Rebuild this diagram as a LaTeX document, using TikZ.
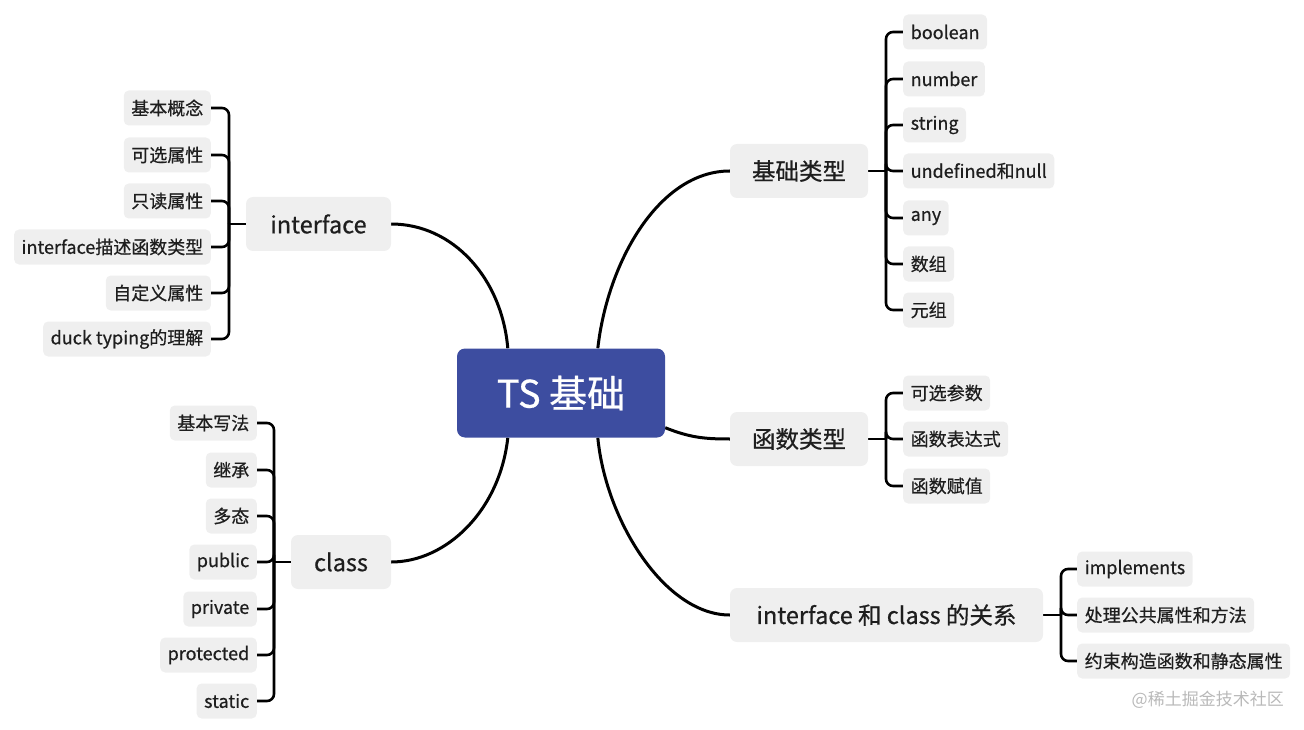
\documentclass[tikz,border=0pt]{standalone}
\usepackage{fontspec}
\setmainfont{Noto Sans CJK SC}[FakeBold=0.6]
\newfontfamily\wmfont{Noto Sans CJK SC}
\usetikzlibrary{calc}
\definecolor{boxgray}{RGB}{239,239,239}
\definecolor{tsblue}{RGB}{61,77,160}
\definecolor{wmgray}{RGB}{185,185,185}
\definecolor{txt}{RGB}{30,30,30}
\pgfdeclarelayer{bg}
\pgfsetlayers{bg,main}
\tikzset{
  leaf/.style={fill=boxgray, rounded corners=5pt, minimum height=35pt, inner xsep=7.5pt, inner ysep=0pt, text=txt, font=\fontsize{18}{18}\selectfont},
  mainnode/.style={fill=boxgray, rounded corners=7pt, minimum height=54pt, inner sep=0pt, text=txt, font=\fontsize{23.5}{23.5}\selectfont},
  rootnode/.style={fill=tsblue, rounded corners=8pt, minimum width=208pt, minimum height=89pt, inner sep=0pt, text=white, font=\fontsize{38}{38}\selectfont},
  br/.style={line width=2.6pt, rounded corners=7pt, draw=black},
  curve/.style={line width=3pt, draw=black},
}
\begin{document}
\begin{tikzpicture}[x=1pt,y=-1pt]
\useasboundingbox (0,0) rectangle (1304,730);
% root
\node[rootnode] (ts) at (561,393) {TS 基础};
% main nodes
\node[mainnode, minimum width=145pt] (itf) at (318.5,224) {interface};
\node[mainnode, minimum width=100pt] (cls) at (341,562) {class};
\node[mainnode, minimum width=138pt] (basic) at (799,171) {基础类型};
\node[mainnode, minimum width=138pt] (func) at (799,439) {函数类型};
\node[mainnode, minimum width=313pt] (rel) at (886.5,615) {interface 和 class 的关系};
% interface leaves
\node[leaf, anchor=east] (i1) at (211,108) {基本概念};
\node[leaf, anchor=east] (i2) at (211,155) {可选属性};
\node[leaf, anchor=east] (i3) at (211,201) {只读属性};
\node[leaf, anchor=east] (i4) at (211,247) {interface描述函数类型};
\node[leaf, anchor=east] (i5) at (211,293) {自定义属性};
\node[leaf, anchor=east] (i6) at (211,339) {duck typing的理解};
% class leaves
\node[leaf, anchor=east] (c1) at (257,423) {基本写法};
\node[leaf, anchor=east] (c2) at (257,470) {继承};
\node[leaf, anchor=east] (c3) at (257,516) {多态};
\node[leaf, anchor=east] (c4) at (257,562) {public};
\node[leaf, anchor=east] (c5) at (257,609) {private};
\node[leaf, anchor=east] (c6) at (257,655) {protected};
\node[leaf, anchor=east] (c7) at (257,701) {static};
% basic leaves
\node[leaf, anchor=west] (b1) at (903,32) {boolean};
\node[leaf, anchor=west] (b2) at (903,79) {number};
\node[leaf, anchor=west] (b3) at (903,125) {string};
\node[leaf, anchor=west] (b4) at (903,171) {undefined和null};
\node[leaf, anchor=west] (b5) at (903,218) {any};
\node[leaf, anchor=west] (b6) at (903,264) {数组};
\node[leaf, anchor=west] (b7) at (903,310) {元组};
% function leaves
\node[leaf, anchor=west] (f1) at (903,393) {可选参数};
\node[leaf, anchor=west] (f2) at (903,439) {函数表达式};
\node[leaf, anchor=west] (f3) at (903,486) {函数赋值};
% relation leaves
\node[leaf, anchor=west] (r1) at (1077,569) {implements};
\node[leaf, anchor=west] (r2) at (1077,615) {处理公共属性和方法};
\node[leaf, anchor=west] (r3) at (1077,661) {约束构造函数和静态属性};
% watermark
\node[text=wmgray, font=\wmfont\fontsize{17}{17}\selectfont, anchor=east, inner sep=0pt] (wm) at (1284,700) {@稀土掘金技术社区};
% junctions
\coordinate (jI) at (229,224);
\coordinate (jC) at (274,562);
\coordinate (jB) at (886,171);
\coordinate (jF) at (886,439);
\coordinate (jR) at (1061,615);
\begin{pgfonlayer}{bg}
% main curves
\draw[curve] (itf.east) .. controls +(62,0) and +(-6,-70) .. ($(ts.north west)+(51,0)$);
\draw[curve] (cls.east) .. controls +(55,0) and +(-8,73) .. ($(ts.south west)+(51,0)$);
\draw[curve] (basic.west) .. controls +(-70,0) and +(10,-88) .. ($(ts.north west)+(141,0)$);
\draw[curve] (rel.west) .. controls +(-65,0) and +(8,83) .. ($(ts.south west)+(141,0)$);
\draw[curve] (func.west) .. controls +(-25,0) and +(25,10) .. ($(ts.south east)+(0,-10)$);
% brackets
\foreach \n in {i1,i2,i3,i4,i5,i6} \draw[br] (\n.east) -| (jI);
\draw[br] (itf.west) -- (jI);
\foreach \n in {c1,c2,c3,c4,c5,c6,c7} \draw[br] (\n.east) -| (jC);
\draw[br] (cls.west) -- (jC);
\foreach \n in {b1,b2,b3,b4,b5,b6,b7} \draw[br] (\n.west) -| (jB);
\draw[br] (basic.east) -- (jB);
\foreach \n in {f1,f2,f3} \draw[br] (\n.west) -| (jF);
\draw[br] (func.east) -- (jF);
\foreach \n in {r1,r2,r3} \draw[br] (\n.west) -| (jR);
\draw[br] (rel.east) -- (jR);
\end{pgfonlayer}
\end{tikzpicture}
\end{document}
